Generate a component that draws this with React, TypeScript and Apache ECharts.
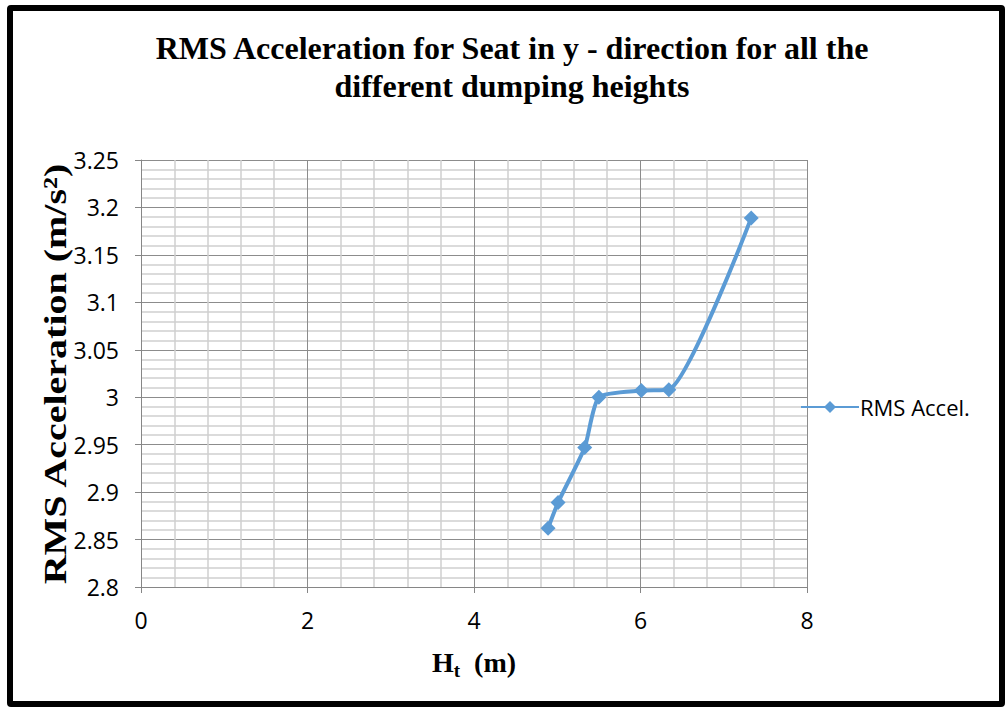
import React, { useEffect, useRef } from "react";
import * as echarts from "echarts";

const heights = [4.89, 5.01, 5.33, 5.5, 6.01, 6.34, 7.33];
const rmsAccel = [2.862, 2.889, 2.947, 3.0, 3.007, 3.008, 3.189];
const seriesName = "RMS Accel.";
const titleText = "RMS Acceleration for Seat in y - direction for all the\ndifferent dumping heights";
const yTitle = "RMS Acceleration (m/s²)";

export default function App() {
  const ref = useRef<HTMLDivElement>(null);
  useEffect(() => {
    if (!ref.current) return;
    const chart = echarts.init(ref.current, undefined, { renderer: "svg" });
    const data = heights.map((h, i) => [h, rmsAccel[i]]);
    chart.setOption({
      animation: false,
      title: {
        text: titleText,
        left: 507,
        textAlign: "center",
        top: 24,
        textStyle: {
          fontFamily: "Liberation Serif",
          fontWeight: "bold",
          fontSize: 32,
          lineHeight: 38,
          color: "#000",
        },
      },
      graphic: [
        {
          type: "text",
          x: 55,
          y: 374,
          rotation: Math.PI / 2,
          scaleX: 1.25,
          style: {
            text: yTitle,
            font: "bold 32px 'Liberation Serif'",
            fill: "#000",
            align: "center",
            verticalAlign: "middle",
          },
        },
      ],
      legend: {
        left: 795,
        top: 391,
        itemWidth: 58,
        itemHeight: 15,
        itemGap: 4,
        textStyle: { fontFamily: "Open Sans", fontSize: 22, color: "#000", padding: [0, 0, 0, -4] },
        data: [seriesName],
      },
      grid: { left: 141, right: 198, top: 160, bottom: 122 },
      xAxis: {
        type: "value",
        min: 0,
        max: 8,
        interval: 2,
        name: "{h|H}{s|t}{h|  (m)}",
        nameLocation: "middle",
        nameGap: 58,
        nameTextStyle: {
          rich: {
            h: { fontFamily: "Liberation Serif", fontWeight: "bold", fontSize: 28, color: "#000" },
            s: { fontFamily: "Liberation Serif", fontWeight: "bold", fontSize: 19, color: "#000", padding: [16, 0, 0, 0] },
          },
        },
        axisLine: { show: true, onZero: false, lineStyle: { color: "#868686", width: 1 } },
        axisTick: { show: true, length: 6, lineStyle: { color: "#868686" } },
        axisLabel: { fontFamily: "Open Sans", fontSize: 23, color: "#000", margin: 21 },
        splitLine: { show: true, lineStyle: { color: "#8c8c8c", width: 1 } },
        minorTick: { show: false, splitNumber: 5 },
        minorSplitLine: { show: true, lineStyle: { color: "#cfcfcf", width: 1.5 } },
      },
      yAxis: {
        type: "value",
        min: 2.8,
        max: 3.25,
        interval: 0.05,
        axisLine: { show: true, lineStyle: { color: "#868686", width: 1 } },
        axisTick: { show: true, length: 6, lineStyle: { color: "#868686" } },
        axisLabel: { fontFamily: "Open Sans", fontSize: 23, color: "#000", margin: 22 },
        splitLine: { show: true, lineStyle: { color: "#8c8c8c", width: 1 } },
        minorTick: { show: false, splitNumber: 5 },
        minorSplitLine: { show: true, lineStyle: { color: "#cfcfcf", width: 1.5 } },
      },
      series: [
        {
          name: seriesName,
          type: "line",
          data,
          smooth: 0.2,
          symbol: "diamond",
          symbolSize: 15,
          lineStyle: { color: "#5B9BD5", width: 4 },
          itemStyle: { color: "#5B9BD5" },
        },
      ],
    });
    return () => chart.dispose();
  }, []);
  return (
    <div style={{ position: "fixed", left: 0, top: 0, width: 1005, height: 709, background: "#fff" }}>
      <div
        style={{
          position: "absolute",
          left: 7,
          top: 5,
          width: 998,
          height: 702,
          boxSizing: "border-box",
          border: "6px solid #000",
          borderRadius: 4,
        }}
      />
      <div ref={ref} style={{ position: "absolute", left: 0, top: 0, width: 1005, height: 709 }} />
    </div>
  );
}
